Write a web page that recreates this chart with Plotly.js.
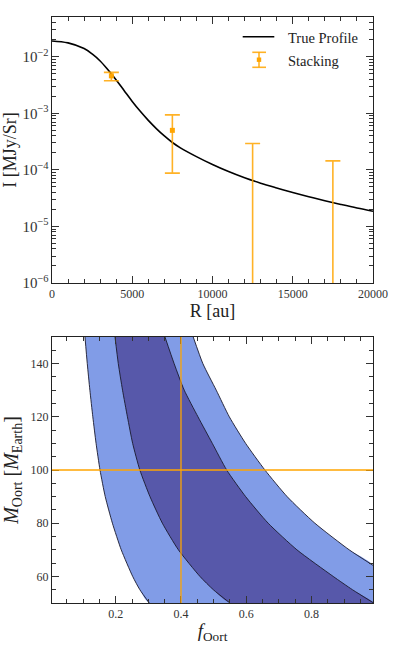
<!DOCTYPE html>
<html>
<head>
<meta charset="utf-8">
<script src="https://cdn.plot.ly/plotly-3.0.1.min.js"></script>
<style>html,body{margin:0;padding:0;background:#fff;}#chart{width:415px;height:650px;}</style>
</head>
<body>
<div id="chart"></div>
<script>
// ---------- Top panel data ----------
const R_profile = [0, 1000, 2000, 2500, 3000, 3500, 4000, 4500, 5000, 5500, 6000, 6500, 7000, 7500, 8000, 9000, 10000, 11000, 12000, 13000, 14000, 15000, 16000, 17000, 18000, 19000, 20000];
const I_profile = [0.01905, 0.01758, 0.01396, 0.01122, 0.008414, 0.005821, 0.00389, 0.002512, 0.001622, 0.001084, 7.50e-4, 5.37e-4, 3.98e-4, 3.05e-4, 2.455e-4, 1.718e-4, 1.245e-4, 9.33e-5, 7.24e-5, 5.82e-5, 4.79e-5, 3.98e-5, 3.35e-5, 2.85e-5, 2.45e-5, 2.12e-5, 1.86e-5];

const R_stack = [3700, 7500, 12500, 17500];
const I_stack = [4.6e-3, 5.0e-4, 5e-7, 5e-7];      // last two lie below the plotted range
const I_upper = [5.3e-3, 9.4e-4, 2.93e-4, 1.44e-4];
const I_lower = [3.76e-3, 8.75e-5, 0, 0];

// ---------- Bottom panel data ----------
const M_levels = [150, 140, 130, 120, 110, 100, 90, 80, 70, 60, 55, 50];
const f_light_left = [0.106, 0.113, 0.121, 0.130, 0.140, 0.152, 0.168, 0.190, 0.217, 0.252, 0.274, 0.303];
const f_dark_left  = [0.198, 0.208, 0.221, 0.236, 0.252, 0.274, 0.305, 0.343, 0.392, 0.458, 0.499, 0.550];
const f_dark_right = [0.351, 0.379, 0.410, 0.452, 0.496, 0.540, 0.598, 0.667, 0.755, 0.866, 0.925, 0.990];
const M_light_right = [150, 140, 130, 120, 110, 100, 90, 80, 70, 64];
const f_light_right = [0.4375, 0.467, 0.508, 0.548, 0.598, 0.657, 0.725, 0.810, 0.915, 0.990];
const f_true = 0.4;
const M_true = 100;

const FONT = 'Liberation Serif, Times New Roman, serif';
const ORANGE = '#FFA500';
const ORANGE_BAR = 'rgba(255,165,0,0.85)';
const LIGHT = 'rgb(129,156,231)';
const DARK = 'rgb(87,88,170)';
const EDGE = 'rgba(25,25,45,0.9)';

const plus = I_stack.map((v, i) => I_upper[i] - v);
const minus = I_stack.map((v, i) => v - I_lower[i]);

const traces = [];
traces.push({
  x: R_profile, y: I_profile, xaxis: 'x', yaxis: 'y', mode: 'lines',
  line: {color: '#000', width: 1.6, shape: 'spline', smoothing: 1}, name: 'True Profile'
});
traces.push({
  x: R_stack, y: I_stack, xaxis: 'x', yaxis: 'y', mode: 'markers',
  marker: {color: ORANGE, symbol: 'square', size: 5},
  error_y: {type: 'data', symmetric: false, array: plus, arrayminus: minus,
            color: ORANGE_BAR, thickness: 1.6, width: 7.5},
  name: 'Stacking'
});

// light band polygon: left boundary top->bottom, right boundary bottom->top
const lightX = f_light_left.concat([1.0], f_light_right.slice().reverse());
const lightY = M_levels.concat([50], M_light_right.slice().reverse());
traces.push({x: lightX, y: lightY, xaxis: 'x2', yaxis: 'y2', mode: 'lines', fill: 'toself',
  fillcolor: LIGHT, line: {width: 0, shape: 'spline', smoothing: 0.6}, hoverinfo: 'skip'});
const darkX = f_dark_left.concat(f_dark_right.slice().reverse());
const darkY = M_levels.concat(M_levels.slice().reverse());
traces.push({x: darkX, y: darkY, xaxis: 'x2', yaxis: 'y2', mode: 'lines', fill: 'toself',
  fillcolor: DARK, line: {width: 0, shape: 'spline', smoothing: 0.6}, hoverinfo: 'skip'});
[[f_light_left, M_levels], [f_dark_left, M_levels], [f_dark_right, M_levels], [f_light_right, M_light_right]].forEach(c => {
  traces.push({x: c[0], y: c[1], xaxis: 'x2', yaxis: 'y2', mode: 'lines',
    line: {color: EDGE, width: 1, shape: 'spline', smoothing: 0.6}, hoverinfo: 'skip'});
});

const W = 415, H = 650, ML = 52, MR = 42, MT = 17, MB = 47;
const PW = W - ML - MR, PH = H - MT - MB;
const px = v => (v - ML) / PW;
const py = v => 1 - (v - MT) / PH;

const axisCommon = {
  ticks: 'inside', ticklen: 7, tickwidth: 1, tickcolor: '#333', mirror: 'allticks',
  showline: true, linecolor: '#222', linewidth: 1, showgrid: false, zeroline: false,
  tickfont: {family: FONT, size: 12, color: '#333'}, automargin: false
};

const layout = {
  width: W, height: H, margin: {l: ML, r: MR, t: MT, b: MB},
  paper_bgcolor: '#fff', plot_bgcolor: '#fff', showlegend: false,
  font: {family: FONT, color: '#222'},
  xaxis: Object.assign({}, axisCommon, {
    anchor: 'y', domain: [0, 1], range: [0, 20000], tick0: 0, dtick: 5000, tickformat: 'd',
    minor: {dtick: 1000, ticks: 'inside', ticklen: 4, tickcolor: '#333', showgrid: false},
    title: {text: 'R [au]', font: {family: FONT, size: 18, color: '#222'}, standoff: 3}
  }),
  yaxis: Object.assign({}, axisCommon, {
    anchor: 'x', domain: [py(283), 1], type: 'log', range: [-6, -1.297], dtick: 1,
    exponentformat: 'power',
    minor: {dtick: 'D1', ticks: 'inside', ticklen: 4, tickcolor: '#333', showgrid: false},
    title: {text: 'I [MJy/Sr]', font: {family: FONT, size: 18, color: '#222'}, standoff: 6}
  }),
  xaxis2: Object.assign({}, axisCommon, {
    anchor: 'y2', domain: [0, 1], range: [0.005, 0.988], tick0: 0, dtick: 0.2,
    minor: {dtick: 0.05, ticks: 'inside', ticklen: 4, tickcolor: '#333', showgrid: false},
    title: {text: '<i>f</i><sub>Oort</sub>', font: {family: FONT, size: 19, color: '#222'}, standoff: 3}
  }),
  yaxis2: Object.assign({}, axisCommon, {
    anchor: 'x2', domain: [0, py(337)], range: [50, 150], tick0: 0, dtick: 20,
    minor: {dtick: 5, ticks: 'inside', ticklen: 4, tickcolor: '#333', showgrid: false},
    title: {text: '<i>M</i><sub>Oort</sub> [<i>M</i><sub>Earth</sub>]', font: {family: FONT, size: 20, color: '#222'}, standoff: 6}
  }),
  shapes: [
    {type: 'line', xref: 'x2', yref: 'y2 domain', x0: f_true, x1: f_true, y0: 0, y1: 1, line: {color: ORANGE, width: 1.3}},
    {type: 'line', xref: 'x2 domain', yref: 'y2', x0: 0, x1: 1, y0: M_true, y1: M_true, line: {color: ORANGE, width: 1.3}},
    // manual legend
    {type: 'line', xref: 'paper', yref: 'paper', x0: px(242.7), x1: px(274.3), y0: py(36.7), y1: py(36.7), line: {color: '#000', width: 1.6}},
    {type: 'line', xref: 'paper', yref: 'paper', x0: px(259), x1: px(259), y0: py(52.3), y1: py(67.3), line: {color: ORANGE_BAR, width: 1.6}},
    {type: 'line', xref: 'paper', yref: 'paper', x0: px(252.3), x1: px(266), y0: py(52.3), y1: py(52.3), line: {color: ORANGE_BAR, width: 1.6}},
    {type: 'line', xref: 'paper', yref: 'paper', x0: px(252.3), x1: px(266), y0: py(67.3), y1: py(67.3), line: {color: ORANGE_BAR, width: 1.6}},
    {type: 'rect', xref: 'paper', yref: 'paper', x0: px(256.8), x1: px(261.2), y0: py(57.5), y1: py(61.9), line: {width: 0}, fillcolor: ORANGE}
  ],
  annotations: [
    {xref: 'paper', yref: 'paper', x: px(286), y: py(38), text: 'True Profile', showarrow: false, xanchor: 'left', yanchor: 'middle', font: {family: FONT, size: 14.5, color: '#222'}},
    {xref: 'paper', yref: 'paper', x: px(286), y: py(61.5), text: 'Stacking', showarrow: false, xanchor: 'left', yanchor: 'middle', font: {family: FONT, size: 14.5, color: '#222'}}
  ]
};

Plotly.newPlot('chart', traces, layout, {displayModeBar: false, staticPlot: true});
</script>
</body>
</html>
